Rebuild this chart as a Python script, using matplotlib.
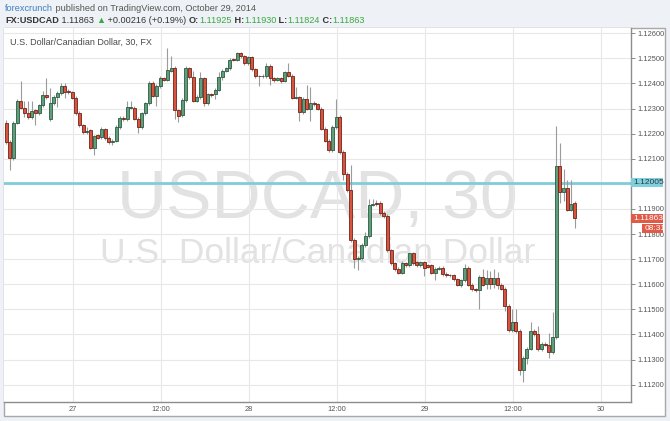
import numpy as np
import matplotlib
matplotlib.use('Agg')
import matplotlib.pyplot as plt
import matplotlib.transforms as mtransforms
from matplotlib.patches import Rectangle

plt.rcParams['font.family'] = ['Liberation Sans', 'DejaVu Sans']

# 30 minute USDCAD candles (first bar ~26 Oct afternoon)
opens = [
    1.12244, 1.12167, 1.12104, 1.12244, 1.12331, 1.12304, 1.12281, 1.12268, 1.12293, 1.12281,
    1.12313, 1.12353, 1.12260, 1.12321, 1.12348, 1.12361, 1.12391, 1.12370, 1.12367, 1.12344,
    1.12281, 1.12233, 1.12207, 1.12215, 1.12144, 1.12193, 1.12188, 1.12217, 1.12184, 1.12167,
    1.12171, 1.12228, 1.12264, 1.12257, 1.12304, 1.12304, 1.12260, 1.12228, 1.12281, 1.12321,
    1.12401, 1.12351, 1.12388, 1.12420, 1.12415, 1.12451, 1.12460, 1.12295, 1.12273, 1.12335,
    1.12460, 1.12424, 1.12331, 1.12348, 1.12420, 1.12321, 1.12357, 1.12357, 1.12375, 1.12424,
    1.12451, 1.12460, 1.12497, 1.12495, 1.12520, 1.12508, 1.12481, 1.12504, 1.12457, 1.12430,
    1.12428, 1.12428, 1.12471, 1.12420, 1.12415, 1.12420, 1.12411, 1.12444, 1.12431, 1.12344,
    1.12346, 1.12287, 1.12340, 1.12300, 1.12324, 1.12317, 1.12300, 1.12220, 1.12171, 1.12135,
    1.12228, 1.12268, 1.12127, 1.12041, 1.11975, 1.11777, 1.11700, 1.11704, 1.11757, 1.11791,
    1.11917, 1.11921, 1.11925, 1.11883, 1.11872, 1.11737, 1.11685, 1.11661, 1.11645, 1.11685,
    1.11675, 1.11723, 1.11688, 1.11675, 1.11688, 1.11675, 1.11675, 1.11645, 1.11661, 1.11665,
    1.11641, 1.11636, 1.11635, 1.11621, 1.11599, 1.11616, 1.11665, 1.11599, 1.11581, 1.11576,
    1.11629, 1.11600, 1.11624, 1.11600, 1.11627, 1.11596, 1.11583, 1.11513, 1.11417, 1.11449,
    1.11413, 1.11257, 1.11307, 1.11343, 1.11413, 1.11400, 1.11343, 1.11364, 1.11360, 1.11329,
    1.11390, 1.12072, 1.11969, 1.11983, 1.11896, 1.11925,
]
highs = [
    1.12255, 1.12175, 1.12250, 1.12340, 1.12411, 1.12331, 1.12331, 1.12331, 1.12300, 1.12320,
    1.12371, 1.12420, 1.12380, 1.12355, 1.12370, 1.12401, 1.12401, 1.12378, 1.12372, 1.12350,
    1.12290, 1.12240, 1.12225, 1.12220, 1.12195, 1.12200, 1.12225, 1.12222, 1.12190, 1.12178,
    1.12235, 1.12270, 1.12270, 1.12331, 1.12331, 1.12310, 1.12265, 1.12288, 1.12328, 1.12408,
    1.12411, 1.12398, 1.12428, 1.12426, 1.12540, 1.12511, 1.12468, 1.12300, 1.12342, 1.12471,
    1.12466, 1.12451, 1.12355, 1.12447, 1.12426, 1.12364, 1.12362, 1.12380, 1.12447, 1.12458,
    1.12466, 1.12502, 1.12502, 1.12526, 1.12525, 1.12512, 1.12510, 1.12510, 1.12462, 1.12435,
    1.12436, 1.12480, 1.12478, 1.12426, 1.12426, 1.12426, 1.12450, 1.12481, 1.12436, 1.12384,
    1.12352, 1.12346, 1.12395, 1.12384, 1.12330, 1.12324, 1.12306, 1.12226, 1.12177, 1.12235,
    1.12340, 1.12275, 1.12133, 1.12047, 1.12077, 1.11783, 1.11712, 1.11765, 1.11807, 1.11940,
    1.11940, 1.11935, 1.11932, 1.11890, 1.11878, 1.11742, 1.11690, 1.11667, 1.11692, 1.11690,
    1.11725, 1.11728, 1.11694, 1.11694, 1.11694, 1.11680, 1.11681, 1.11668, 1.11672, 1.11672,
    1.11647, 1.11641, 1.11641, 1.11627, 1.11621, 1.11679, 1.11672, 1.11605, 1.11587, 1.11635,
    1.11661, 1.11655, 1.11653, 1.11660, 1.11650, 1.11607, 1.11590, 1.11520, 1.11503, 1.11503,
    1.11420, 1.11313, 1.11350, 1.11449, 1.11420, 1.11433, 1.11371, 1.11370, 1.11407, 1.11489,
    1.12232, 1.12163, 1.12059, 1.12016, 1.12016, 1.11930,
]
lows = [
    1.12157, 1.12057, 1.12097, 1.12238, 1.12297, 1.12268, 1.12260, 1.12260, 1.12233, 1.12275,
    1.12305, 1.12340, 1.12250, 1.12315, 1.12305, 1.12355, 1.12344, 1.12360, 1.12340, 1.12275,
    1.12225, 1.12200, 1.12200, 1.12137, 1.12117, 1.12178, 1.12180, 1.12175, 1.12160, 1.12153,
    1.12165, 1.12220, 1.12250, 1.12250, 1.12298, 1.12253, 1.12201, 1.12220, 1.12275, 1.12315,
    1.12345, 1.12311, 1.12380, 1.12408, 1.12408, 1.12445, 1.12257, 1.12247, 1.12265, 1.12328,
    1.12418, 1.12325, 1.12325, 1.12340, 1.12311, 1.12315, 1.12347, 1.12340, 1.12370, 1.12415,
    1.12445, 1.12455, 1.12490, 1.12490, 1.12500, 1.12475, 1.12475, 1.12450, 1.12420, 1.12388,
    1.12420, 1.12420, 1.12395, 1.12404, 1.12408, 1.12401, 1.12404, 1.12425, 1.12338, 1.12338,
    1.12250, 1.12280, 1.12293, 1.12250, 1.12310, 1.12294, 1.12214, 1.12165, 1.12128, 1.12128,
    1.12220, 1.12120, 1.12017, 1.11968, 1.11770, 1.11664, 1.11657, 1.11695, 1.11750, 1.11784,
    1.11910, 1.11912, 1.11876, 1.11865, 1.11730, 1.11678, 1.11652, 1.11639, 1.11639, 1.11668,
    1.11668, 1.11678, 1.11668, 1.11668, 1.11632, 1.11664, 1.11639, 1.11619, 1.11655, 1.11632,
    1.11628, 1.11628, 1.11614, 1.11592, 1.11590, 1.11609, 1.11592, 1.11574, 1.11570, 1.11501,
    1.11592, 1.11583, 1.11580, 1.11585, 1.11580, 1.11577, 1.11493, 1.11410, 1.11410, 1.11407,
    1.11240, 1.11209, 1.11283, 1.11337, 1.11393, 1.11336, 1.11336, 1.11353, 1.11307, 1.11322,
    1.11383, 1.11923, 1.11930, 1.11890, 1.11890, 1.11824,
]
closes = [
    1.12167, 1.12104, 1.12244, 1.12331, 1.12304, 1.12281, 1.12268, 1.12291, 1.12281, 1.12313,
    1.12353, 1.12347, 1.12321, 1.12348, 1.12364, 1.12391, 1.12367, 1.12367, 1.12344, 1.12281,
    1.12233, 1.12207, 1.12211, 1.12144, 1.12191, 1.12184, 1.12217, 1.12181, 1.12167, 1.12171,
    1.12228, 1.12264, 1.12257, 1.12308, 1.12308, 1.12260, 1.12228, 1.12281, 1.12321, 1.12401,
    1.12351, 1.12391, 1.12420, 1.12415, 1.12455, 1.12460, 1.12295, 1.12271, 1.12335, 1.12460,
    1.12424, 1.12331, 1.12348, 1.12420, 1.12321, 1.12357, 1.12353, 1.12375, 1.12424, 1.12451,
    1.12460, 1.12495, 1.12495, 1.12520, 1.12508, 1.12481, 1.12504, 1.12457, 1.12428, 1.12428,
    1.12430, 1.12471, 1.12420, 1.12415, 1.12420, 1.12411, 1.12444, 1.12431, 1.12344, 1.12346,
    1.12287, 1.12340, 1.12300, 1.12324, 1.12317, 1.12300, 1.12220, 1.12171, 1.12135, 1.12228,
    1.12268, 1.12127, 1.12041, 1.11975, 1.11777, 1.11700, 1.11704, 1.11757, 1.11791, 1.11917,
    1.11921, 1.11920, 1.11883, 1.11872, 1.11737, 1.11685, 1.11661, 1.11645, 1.11685, 1.11675,
    1.11723, 1.11685, 1.11675, 1.11688, 1.11665, 1.11670, 1.11645, 1.11661, 1.11665, 1.11639,
    1.11635, 1.11635, 1.11621, 1.11599, 1.11616, 1.11665, 1.11599, 1.11581, 1.11576, 1.11629,
    1.11599, 1.11624, 1.11600, 1.11627, 1.11596, 1.11583, 1.11513, 1.11417, 1.11449, 1.11413,
    1.11257, 1.11307, 1.11343, 1.11413, 1.11400, 1.11343, 1.11364, 1.11360, 1.11329, 1.11390,
    1.12072, 1.11969, 1.11983, 1.11896, 1.11920, 1.11863,
]

price_ticks = [1.112, 1.113, 1.114, 1.115, 1.116, 1.117, 1.118,
               1.119, 1.120, 1.121, 1.122, 1.123, 1.124, 1.125, 1.126]
time_labels = ['27', '12:00', '28', '12:00', '29', '12:00', '30']
level = 1.12005
last_price = 1.11863
countdown = '08:31'

W, H = 670, 421
fig = plt.figure(figsize=(W / 100, H / 100), dpi=100, facecolor='#eef1f5')

# white chart panel with grey frame
fig.add_artist(Rectangle((4 / W, 1 - 415.5 / H), 660.5 / W, 387.5 / H,
                         transform=fig.transFigure, facecolor='white',
                         edgecolor='#a8a8a8', lw=1, zorder=-1))

ax = fig.add_axes([4 / W, 1 - 402 / H, 627 / W, 374 / H])
ax.set_facecolor('white')

n = len(opens)
x = np.arange(n)
o = np.array(opens)
c = np.array(closes)
up = c >= o
lo = np.minimum(o, c)
hh = np.maximum(np.abs(c - o), 0.000025)

ax.vlines(x, lows, highs, color='#9b9b9b', lw=0.8, zorder=2)
ax.bar(x[up], hh[up], bottom=lo[up], width=0.8, color='#5e9e7b',
       edgecolor='#2c5a40', lw=0.6, zorder=3)
ax.bar(x[~up], hh[~up], bottom=lo[~up], width=0.8, color='#d9533f',
       edgecolor='#6e2418', lw=0.6, zorder=3)

ax.axhline(level, color='#80cdd9', lw=2, zorder=1.5)

ymin, ymax = 1.11131, 1.12621
ax.set_ylim(ymin, ymax)
ax.set_xlim(-0.57, 170.4)

# watermark
ax.text(0.5, 0.492, 'USDCAD, 30', transform=ax.transAxes, ha='center',
        va='baseline', fontsize=49, color='#e2e2e2', zorder=0.5)
ax.text(0.5, 0.372, 'U.S. Dollar/Canadian Dollar', transform=ax.transAxes,
        ha='center', va='baseline', fontsize=25.5, color='#e2e2e2', zorder=0.5)

ax.text(6 / 627, 1 - 17 / 374, 'U.S. Dollar/Canadian Dollar, 30, FX',
        transform=ax.transAxes, fontsize=6.5, color='#4a4a4a', va='baseline')

# axes styling
for s in ['top', 'left']:
    ax.spines[s].set_visible(False)
for s in ['right', 'bottom']:
    ax.spines[s].set_color('#8c8c8c')
    ax.spines[s].set_linewidth(1)

ax.yaxis.tick_right()
ax.set_yticks(price_ticks)
# the 1.12000 label sits under the horizontal-line tag
ax.set_yticklabels(['' if abs(p - level) < 0.0005 else '%.5f' % p for p in price_ticks])
ax.tick_params(axis='y', length=3, width=0.7, color='#8c8c8c', labelsize=5.4,
               labelcolor='#555555', pad=1.5)

ax.set_xticks([18.25 + 24 * j for j in range(len(time_labels))])
ax.set_xticklabels(time_labels)
ax.tick_params(axis='x', length=0, labelsize=5.4, labelcolor='#555555', pad=3)

ax.grid(True, color='#e8e8e8', lw=0.8, zorder=0)
ax.set_axisbelow(True)

# price tags on the right axis
ypp = (ymax - ymin) / 374.0
blend = mtransforms.blended_transform_factory(ax.transAxes, ax.transData)


def tag(price, text, fc, tc, x0, x1):
    ax.add_patch(Rectangle((1 + x0 / 627, price - 4.5 * ypp), (x1 - x0) / 627, 9 * ypp,
                           transform=blend, facecolor=fc, edgecolor='none',
                           clip_on=False, zorder=5))
    ax.text(1 + (x0 + 2.5) / 627, price, text, transform=blend, ha='left',
            va='center', fontsize=6.0, color=tc, clip_on=False, zorder=6)


tag(level, '1.12005', '#80cfdc', '#2b3a40', 0, 32)
tag(last_price, '1.11863', '#e05a48', 'white', 0, 32)
tag(last_price - 10.5 * ypp, countdown, '#e05a48', 'white', 11, 32)

# header lines
renderer = fig.canvas.get_renderer()


def row(y_px, x_px, pieces, size=6.6):
    xx = x_px
    for s, col, wt in pieces:
        t = fig.text(xx / W, 1 - y_px / H, s, color=col, fontweight=wt,
                     fontsize=size, va='baseline')
        xx += t.get_window_extent(renderer).width


dark = '#333333'
grn = '#3aa843'
row(11, 5, [('forexcrunch', '#3d7fc1', 'normal'),
            (' published on TradingView.com, October 29, 2014', '#555555', 'normal')])
row(23, 5, [('FX:USDCAD', dark, 'bold'), (' 1.11863 ', dark, 'normal'),
            ('\u25b2', grn, 'normal'), (' +0.00216 (+0.19%) ', dark, 'normal'),
            ('O:', dark, 'bold'), ('1.11925', grn, 'normal'),
            (' H:', dark, 'bold'), ('1.11930', grn, 'normal'),
            (' L:', dark, 'bold'), ('1.11824', grn, 'normal'),
            (' C:', dark, 'bold'), ('1.11863', grn, 'normal')])

fig.savefig('out.png', dpi=100, facecolor=fig.get_facecolor())
